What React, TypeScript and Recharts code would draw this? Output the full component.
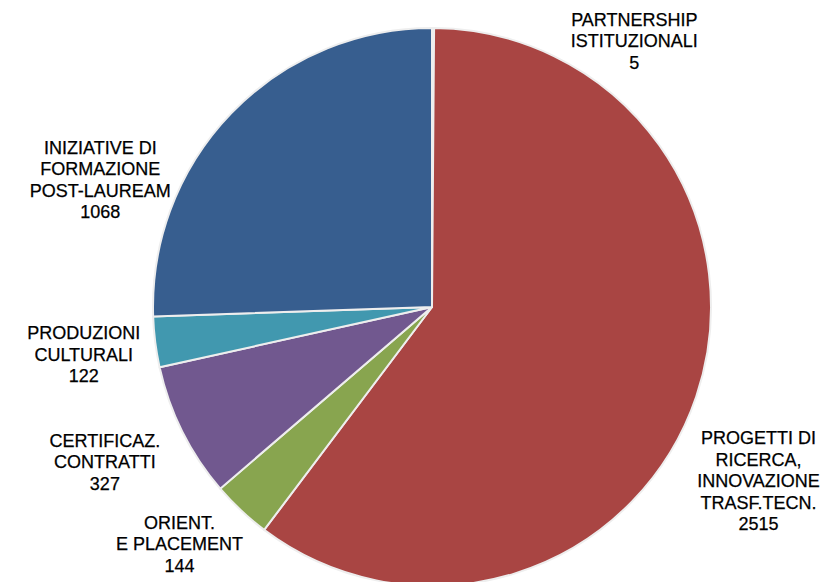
import { PieChart, Pie, Cell } from 'recharts';

const names = [
  'PARTNERSHIP|ISTITUZIONALI',
  'PROGETTI DI|RICERCA,|INNOVAZIONE|TRASF.TECN.',
  'ORIENT.|E PLACEMENT',
  'CERTIFICAZ.|CONTRATTI',
  'PRODUZIONI|CULTURALI',
  'INIZIATIVE DI|FORMAZIONE|POST-LAUREAM',
];
const values = [5, 2515, 144, 327, 122, 1068];

const COLORS = ['#375E8F', '#A94543', '#88A54F', '#71588F', '#4198AF', '#375E8F'];

// label nudges away from the default spot on the mid-angle ray
const NUDGE: [number, number][] = [
  [201, 84],
  [-5, 62],
  [-13, -18],
  [-14, -1],
  [-1, 4],
  [-80, 116],
];

const data = names.map((name, i) => ({ name, value: values[i] }));

const RAD = Math.PI / 180;
const LINE = 21.5;

function renderLabel(props: any) {
  const { cx, cy, midAngle, outerRadius, index, value } = props;
  const r = outerRadius + 71;
  const x = cx + r * Math.cos(-midAngle * RAD) + NUDGE[index][0];
  const y = cy + r * Math.sin(-midAngle * RAD) + NUDGE[index][1];
  const lines = [...names[index].split('|'), String(value)];
  const top = y - ((lines.length - 1) * LINE) / 2;
  return (
    <text
      key={index}
      x={x}
      y={top}
      textAnchor="middle"
      dominantBaseline="central"
      fill="#000"
      stroke="#000"
      strokeWidth={0.25}
      fontSize={18}
      fontFamily="'Liberation Sans', Arial, sans-serif"
    >
      {lines.map((l, i) => (
        <tspan key={i} x={x} y={top + i * LINE}>
          {l}
        </tspan>
      ))}
    </text>
  );
}

function App() {
  return (
    <div style={{ position: 'absolute', left: 0, top: 0, background: '#fff' }}>
      <PieChart width={820} height={582} margin={{ top: 0, right: 0, bottom: 0, left: 0 }}>
        <Pie
          data={data}
          cx={432}
          cy={307}
          outerRadius={279}
          startAngle={90}
          endAngle={-270}
          dataKey="value"
          stroke="#eeeeee"
          strokeWidth={2}
          label={renderLabel}
          labelLine={false}
          isAnimationActive={false}
        >
          {data.map((d, i) => (
            <Cell key={d.name} fill={COLORS[i]} />
          ))}
        </Pie>
      </PieChart>
    </div>
  );
}

export default App;
